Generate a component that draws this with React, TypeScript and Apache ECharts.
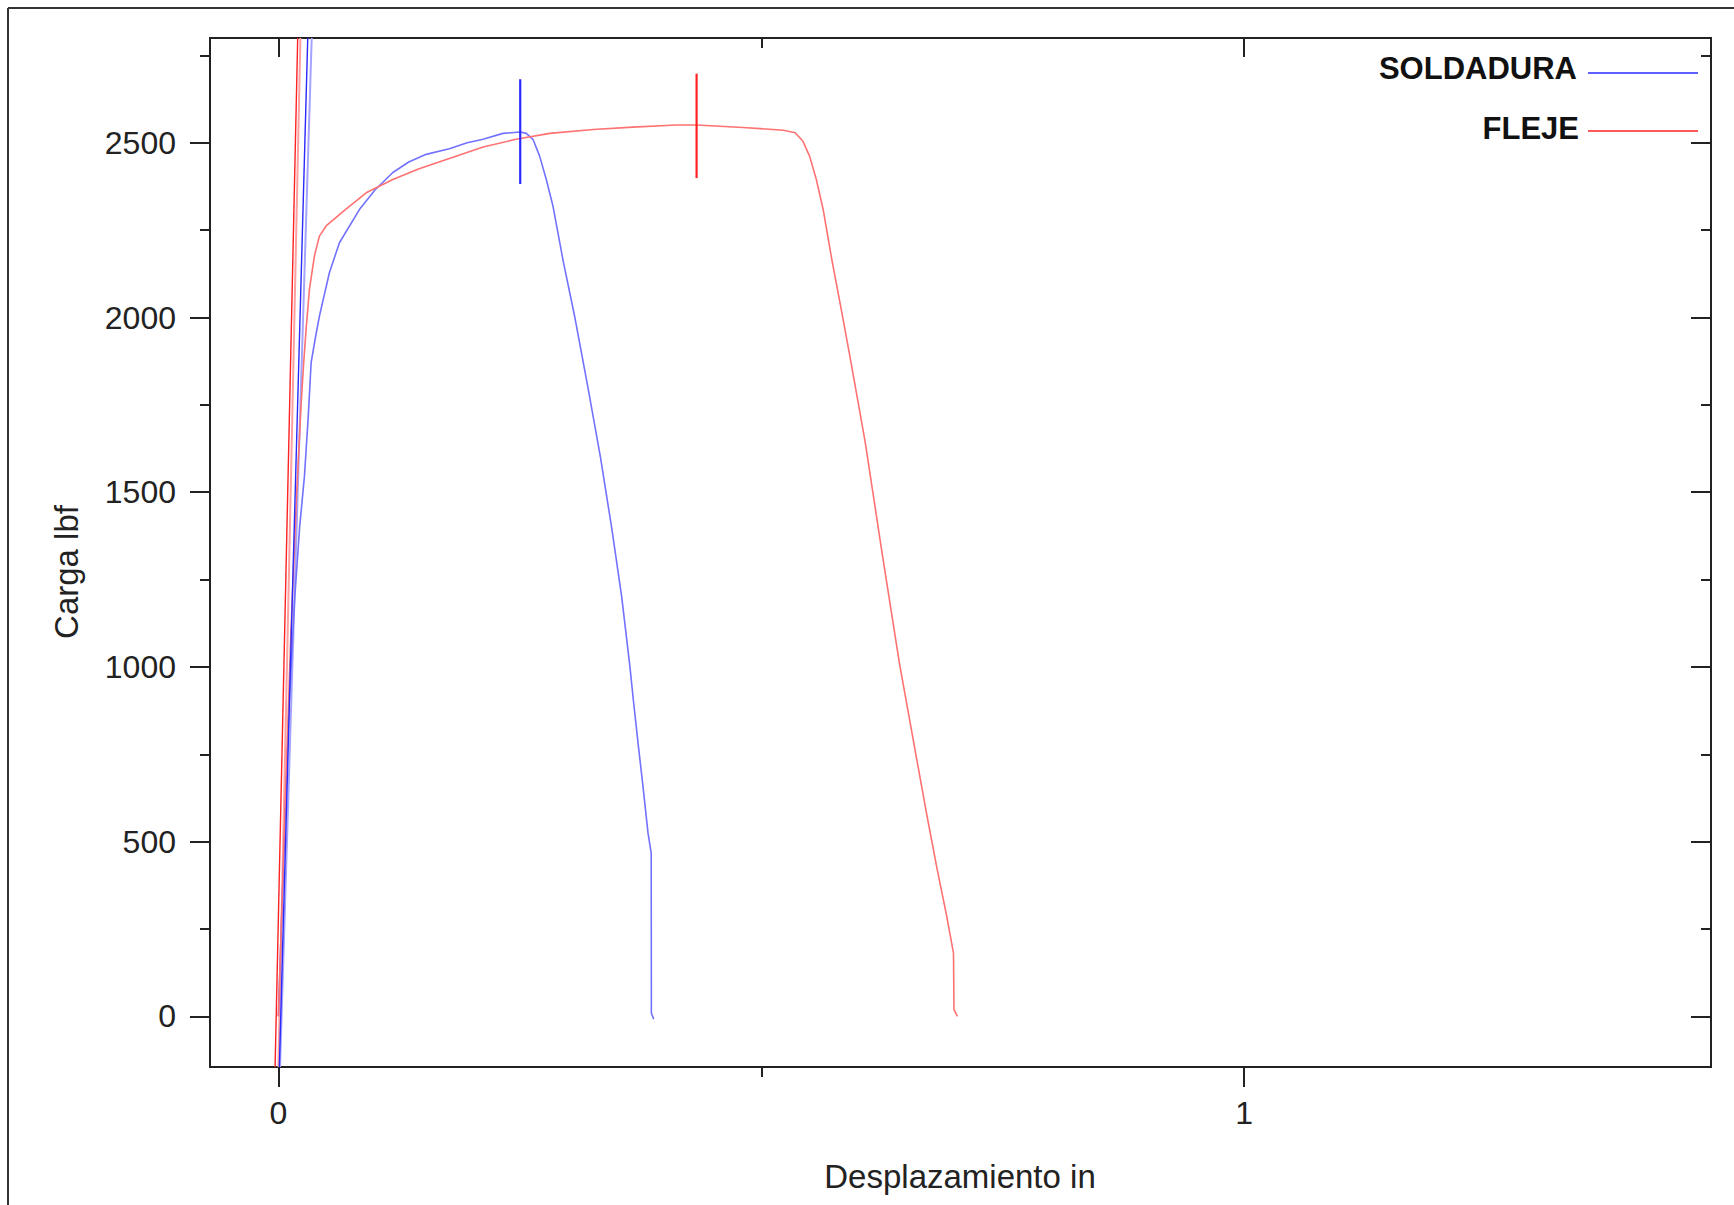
import React, { useEffect, useRef } from "react";
import * as echarts from "echarts";

// Axis ranges
const X_MIN = -0.0708;
const X_MAX = 1.4833;
const Y_MIN = -145;
const Y_MAX = 2800;

// Tick values
const xMajorTicks = [0, 1];
const xMinorTicks = [0.5];
const yMajorTicks = [0, 500, 1000, 1500, 2000, 2500];
const yMinorTicks = [250, 750, 1250, 1750, 2250, 2750];

// SOLDADURA (blue) curve
const soldaduraDisp = [0, 0.006, 0.0114, 0.017, 0.022, 0.027, 0.031, 0.0339, 0.0385, 0.0425, 0.0528, 0.0632, 0.0839, 0.1, 0.1185, 0.135, 0.153, 0.177, 0.1955, 0.212, 0.2325, 0.2504, 0.2567, 0.2636, 0.2705, 0.2774, 0.2843, 0.295, 0.307, 0.3205, 0.3335, 0.345, 0.3555, 0.364, 0.3675, 0.3724, 0.3775, 0.3827, 0.386, 0.3862, 0.3886];
const soldaduraLoad = [0, 500, 906, 1200, 1400, 1546, 1720, 1871, 1945, 2004, 2128, 2214, 2309, 2365, 2415, 2445, 2467, 2483, 2500, 2510, 2527, 2531, 2527, 2510, 2462, 2395, 2319, 2160, 2000, 1800, 1600, 1400, 1200, 1000, 906, 782, 658, 525, 467, 9, -8];

// FLEJE (red) curve
const flejeDisp = [0, 0.007, 0.013, 0.019, 0.0235, 0.0262, 0.0287, 0.0321, 0.0373, 0.0425, 0.0494, 0.07, 0.0909, 0.1185, 0.145, 0.177, 0.212, 0.246, 0.281, 0.326, 0.367, 0.412, 0.433, 0.481, 0.523, 0.535, 0.543, 0.55, 0.557, 0.564, 0.573, 0.582, 0.591, 0.6075, 0.625, 0.643, 0.661, 0.671, 0.6815, 0.692, 0.699, 0.6995, 0.703];
const flejeLoad = [0, 600, 1100, 1500, 1750, 1871, 1966, 2080, 2176, 2233, 2262, 2310, 2357, 2395, 2425, 2455, 2488, 2510, 2527, 2538, 2545, 2551, 2551, 2544, 2536, 2529, 2505, 2462, 2395, 2310, 2166, 2035, 1900, 1645, 1327, 1011, 735, 582, 429, 286, 181, 19, 0];

// Steep modulus lines (x at bottom / top, load at bottom / top)
const modLoad = [-145, 2800];
const soldaduraModDispA = [0.001, 0.0304];
const soldaduraModDispB = [0.0017, 0.0345];
const flejeModDispA = [-0.0034, 0.02];
const flejeModDispB = [0.0, 0.0228];

// Peak markers
const soldaduraPeakDisp = [0.2504, 0.2504];
const soldaduraPeakLoad = [2382, 2682];
const flejePeakDisp = [0.433, 0.433];
const flejePeakLoad = [2399, 2698];

const legendNames = ["SOLDADURA", "FLEJE"];

const FONT = "'Liberation Sans', Arial, Helvetica, sans-serif";
const BLUE_CURVE = "#7272ff";
const RED_CURVE = "#ff7272";
const BLUE_STRONG = "#2a2aff";
const RED_STRONG = "#ff2222";
const AXIS_COLOR = "#222";

const zip = (xs: number[], ys: number[]) => xs.map((x, i) => [x, ys[i]]);
const plain = (v: number) => String(v);

function xAxisDef(position: string, ticks: number[], len: number, inside: boolean, labels: boolean) {
  return {
    type: "value",
    position,
    min: X_MIN,
    max: X_MAX,
    gridIndex: 0,
    axisLine: { show: true, onZero: false, lineStyle: { color: AXIS_COLOR, width: 2 } },
    axisTick: { show: true, customValues: ticks, length: len, inside, lineStyle: { color: AXIS_COLOR, width: 2 } },
    axisLabel: labels
      ? { show: true, customValues: ticks, formatter: plain, margin: 30, fontSize: 32, color: AXIS_COLOR, fontFamily: FONT }
      : { show: false },
    splitLine: { show: false },
  };
}

function yAxisDef(position: string, ticks: number[], len: number, inside: boolean, labels: boolean) {
  return {
    type: "value",
    position,
    min: Y_MIN,
    max: Y_MAX,
    gridIndex: 0,
    axisLine: { show: true, onZero: false, lineStyle: { color: AXIS_COLOR, width: 2 } },
    axisTick: { show: true, customValues: ticks, length: len, inside, lineStyle: { color: AXIS_COLOR, width: 2 } },
    axisLabel: labels
      ? { show: true, customValues: ticks, formatter: plain, margin: 34, fontSize: 32, color: AXIS_COLOR, fontFamily: FONT }
      : { show: false },
    splitLine: { show: false },
  };
}

function lineSeries(name: string, data: number[][], color: string, width: number, z = 2) {
  return {
    name,
    type: "line",
    data,
    showSymbol: false,
    symbol: "none",
    clip: true,
    silent: true,
    z,
    lineStyle: { color, width },
  };
}

export default function App() {
  const ref = useRef<HTMLDivElement>(null);
  useEffect(() => {
    const chart = echarts.init(ref.current!, null, { renderer: "svg" });
    const option = {
      animation: false,
      backgroundColor: "#ffffff",
      textStyle: { fontFamily: FONT },
      grid: { left: 210, top: 38, right: 23, bottom: 138, containLabel: false },
      xAxis: [
        xAxisDef("bottom", xMajorTicks, 20, false, true),
        xAxisDef("bottom", xMinorTicks, 10, false, false),
        xAxisDef("top", xMajorTicks, 19, true, false),
        xAxisDef("top", xMinorTicks, 10, true, false),
      ],
      yAxis: [
        yAxisDef("left", yMajorTicks, 20, false, true),
        yAxisDef("left", yMinorTicks, 10, false, false),
        yAxisDef("right", yMajorTicks, 20, true, false),
        yAxisDef("right", yMinorTicks, 10, true, false),
      ],
      series: [
        lineSeries("SOLDADURA modulo B", zip(soldaduraModDispB, modLoad), "#a4a4ff", 2),
        lineSeries("FLEJE modulo B", zip(flejeModDispB, modLoad), "#ffa0a0", 2),
        lineSeries(legendNames[0], zip(soldaduraDisp, soldaduraLoad), BLUE_CURVE, 1.6, 3),
        lineSeries(legendNames[1], zip(flejeDisp, flejeLoad), RED_CURVE, 1.6, 3),
        lineSeries("SOLDADURA modulo", zip(soldaduraModDispA, modLoad), BLUE_STRONG, 1.4, 4),
        lineSeries("FLEJE modulo", zip(flejeModDispA, modLoad), RED_STRONG, 1.4, 4),
        lineSeries("SOLDADURA max", zip(soldaduraPeakDisp, soldaduraPeakLoad), BLUE_STRONG, 2.2, 5),
        lineSeries("FLEJE max", zip(flejePeakDisp, flejePeakLoad), RED_STRONG, 2.2, 5),
      ],
      graphic: [
        { type: "line", shape: { x1: 8, y1: 8, x2: 1734, y2: 8 }, style: { stroke: "#333", lineWidth: 2 } },
        { type: "line", shape: { x1: 8, y1: 8, x2: 8, y2: 1205 }, style: { stroke: "#333", lineWidth: 2 } },
        {
          type: "text", x: 1577, y: 68,
          style: { text: legendNames[0], fontSize: 31, fontWeight: "bold", fontFamily: FONT, fill: "#111", align: "right", verticalAlign: "middle", textAlign: "right", textVerticalAlign: "middle" },
        },
        { type: "line", shape: { x1: 1588, y1: 73, x2: 1698, y2: 73 }, style: { stroke: BLUE_STRONG, lineWidth: 1.6 } },
        {
          type: "text", x: 1579, y: 128,
          style: { text: legendNames[1], fontSize: 31, fontWeight: "bold", fontFamily: FONT, fill: "#111", align: "right", verticalAlign: "middle", textAlign: "right", textVerticalAlign: "middle" },
        },
        { type: "line", shape: { x1: 1588, y1: 131, x2: 1698, y2: 131 }, style: { stroke: RED_STRONG, lineWidth: 1.6 } },
        {
          type: "text", x: 960, y: 1176,
          style: { text: "Desplazamiento in", fontSize: 33, fontFamily: FONT, fill: AXIS_COLOR, align: "center", verticalAlign: "middle", textAlign: "center", textVerticalAlign: "middle" },
        },
        {
          type: "text", x: 66, y: 572, rotation: Math.PI / 2,
          style: { text: "Carga lbf", fontSize: 33, fontFamily: FONT, fill: AXIS_COLOR, align: "center", verticalAlign: "middle", textAlign: "center", textVerticalAlign: "middle" },
        },
      ],
    };
    chart.setOption(option as any);
    return () => chart.dispose();
  }, []);
  return (
    <div
      ref={ref}
      style={{ position: "absolute", left: 0, top: 0, width: 1734, height: 1205, background: "#fff" }}
    />
  );
}
